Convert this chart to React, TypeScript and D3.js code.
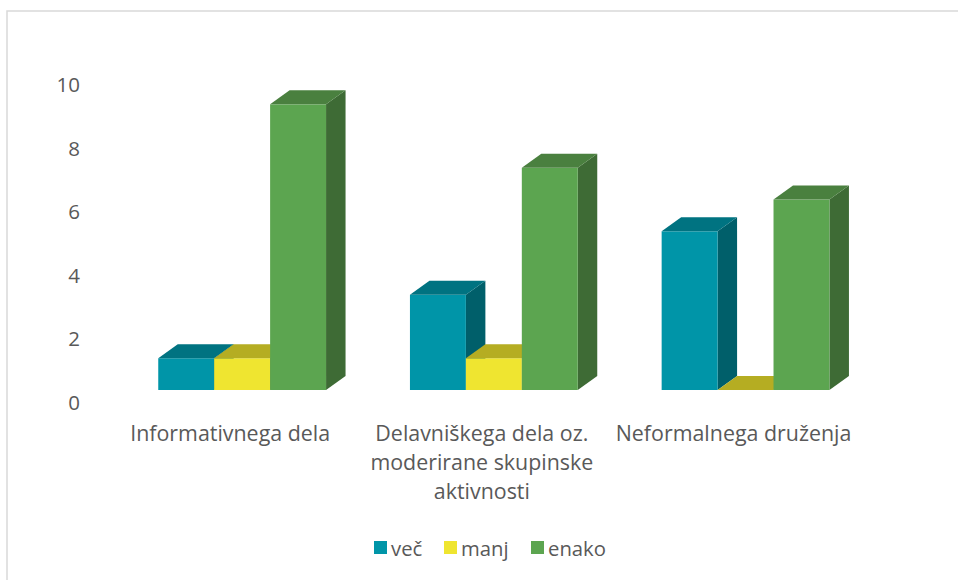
import * as d3 from 'd3';

const categories = ['Informativnega dela', 'Delavniškega dela oz. moderirane skupinske aktivnosti', 'Neformalnega druženja'];
const categoryLines = [
  ['Informativnega dela'],
  ['Delavniškega dela oz.', 'moderirane skupinske', 'aktivnosti'],
  ['Neformalnega druženja'],
];
const seriesNames = ['več', 'manj', 'enako'];
const vec = [1, 3, 5];
const manj = [1, 1, 0];
const enako = [9, 7, 6];
const yTicks = [0, 2, 4, 6, 8, 10];

// front, top, side shades per series
const colors = [
  { front: '#0095a8', top: '#007381', side: '#005f6a' },
  { front: '#efe530', top: '#b5ad22', side: '#8f881a' },
  { front: '#5ca550', top: '#4a803f', side: '#3e6b35' },
];

const W = 958;
const H = 580;
const DX = 19.5;
const DY = 14;
const textColor = '#595959';
const font = '"Open Sans", sans-serif';

export default function App() {
  const values = [vec, manj, enako];

  const x = d3
    .scaleBand<string>()
    .domain(categories)
    .range([116.3, 871.4])
    .paddingInner(1 / 3)
    .paddingOuter(1 / 6);

  const xs = d3.scaleBand<string>().domain(seriesNames).range([0, x.bandwidth()]);

  const y = d3.scaleLinear().domain([0, 10]).range([390, 72.6]);
  const base = y(0);

  const bars: JSX.Element[] = [];
  categories.forEach((cat, ci) => {
    seriesNames.forEach((s, si) => {
      const v = values[si][ci];
      const x0 = x(cat)! + xs(s)!;
      const w = xs.bandwidth();
      const yt = y(v);
      const c = colors[si];
      const key = `${ci}-${si}`;
      bars.push(
        <g key={key}>
          <polygon
            points={`${x0 + w},${yt} ${x0 + w + DX},${yt - DY} ${x0 + w + DX},${base - DY} ${x0 + w},${base}`}
            fill={c.side}
          />
          <rect x={x0} y={yt} width={w} height={base - yt} fill={c.front} />
          <polygon
            points={`${x0},${yt} ${x0 + w},${yt} ${x0 + w + DX},${yt - DY} ${x0 + DX},${yt - DY}`}
            fill={c.top}
          />
        </g>
      );
    });
  });

  const legendX = [374, 444, 531];

  return (
    <div style={{ position: 'fixed', left: 0, top: 0 }}>
      <svg width={W} height={H} style={{ display: 'block', background: '#fff' }}>
        <rect x={7} y={11} width={1200} height={1200} fill="#fff" stroke="#d9d9d9" strokeWidth={1.5} />

        {yTicks.map((t) => (
          <text
            key={t}
            x={80}
            y={y(t) + 11.7}
            textAnchor="end"
            dominantBaseline="central"
            fontFamily={font}
            fontSize={20.5}
            fill={textColor}
          >
            {t}
          </text>
        ))}

        {bars}

        {categories.map((cat, ci) => (
          <text
            key={cat}
            x={x(cat)! + x.bandwidth() / 2 - 12}
            y={441}
            textAnchor="middle"
            fontFamily={font}
            fontSize={21.4}
            fill={textColor}
          >
            {categoryLines[ci].map((line, li) => (
              <tspan key={li} x={x(cat)! + x.bandwidth() / 2 - 12} dy={li === 0 ? 0 : 29}>
                {line}
              </tspan>
            ))}
          </text>
        ))}

        {seriesNames.map((s, si) => (
          <g key={s} transform={`translate(${legendX[si]},541)`}>
            <rect width={13} height={13} fill={colors[si].front} />
            <text x={17} y={6.5} dominantBaseline="central" fontFamily={font} fontSize={20.3} fill={textColor}>
              {s}
            </text>
          </g>
        ))}
      </svg>
    </div>
  );
}
